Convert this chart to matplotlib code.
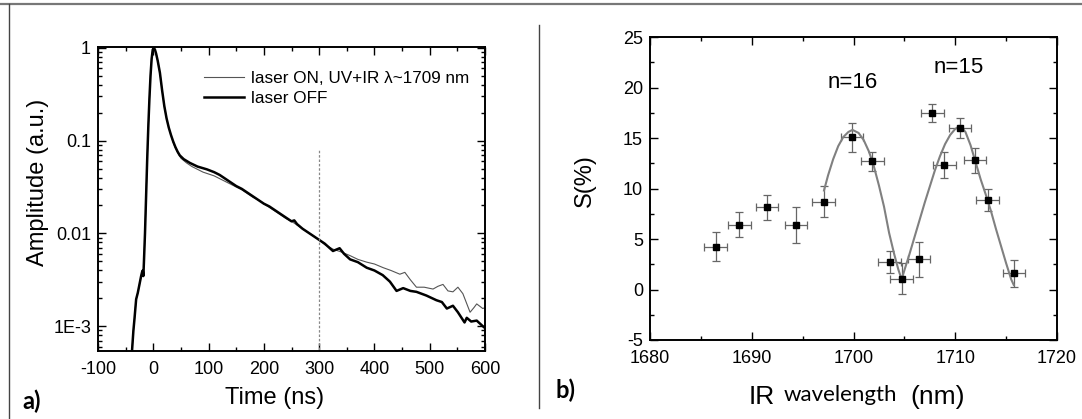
import matplotlib.pyplot as plt
import numpy as np
from matplotlib.ticker import MultipleLocator, FixedLocator, LogLocator, NullFormatter
from matplotlib.lines import Line2D

plt.rcParams['font.family'] = ['Liberation Sans', 'DejaVu Sans']
plt.rcParams['axes.unicode_minus'] = False

# ---------------- panel a) data: time (ns) and log10(amplitude) ----------------
t_off = [-40, -36, -34, -31, -28, -25, -22, -20, -19, -18, -17, -15, -13, -11, -9, -7, -5, -3, -1,
         1, 3, 5, 8, 12, 16, 20, 24, 28, 32, 36, 40, 44, 48, 55, 66, 80, 97,
         110, 120, 130, 140, 150, 160, 170, 180, 190, 200, 210, 220, 230, 240, 250, 255, 260,
         270, 280, 290, 300, 310, 325, 337, 345, 356, 370, 386, 400, 415, 428, 440, 452,
         465, 476, 494, 512, 522, 531, 542, 551, 563, 567, 575, 585, 596, 600]
log_off = [-3.4, -3.05, -2.92, -2.71, -2.64, -2.55, -2.46, -2.41, -2.40, -2.46, -2.32, -2.0, -1.6,
           -1.2, -0.85, -0.55, -0.30, -0.12, -0.02,
           0.0, -0.02, -0.06, -0.14, -0.27, -0.46, -0.63, -0.76, -0.86, -0.94, -1.01, -1.07,
           -1.12, -1.16, -1.20, -1.24, -1.28, -1.31,
           -1.34, -1.37, -1.41, -1.45, -1.49, -1.52, -1.56, -1.60, -1.64, -1.68, -1.71, -1.75,
           -1.79, -1.83, -1.87, -1.86, -1.90,
           -1.95, -1.99, -2.03, -2.07, -2.11, -2.19, -2.16, -2.22, -2.28, -2.31, -2.37, -2.40,
           -2.45, -2.52, -2.62, -2.59,
           -2.62, -2.63, -2.67, -2.72, -2.74, -2.81, -2.78, -2.85, -2.96, -2.91, -2.95, -2.94,
           -3.00, -3.02]

t_on = [-40, -36, -34, -31, -28, -25, -22, -20, -19, -18, -17, -15, -13, -11, -9, -7, -5, -3, -1,
        1, 3, 5, 8, 12, 16, 20, 24, 28, 32, 36, 40, 45, 50, 60, 70, 80, 90, 100,
        110, 120, 130, 140, 150, 160, 170, 180, 190, 200, 210, 220, 230, 240, 250, 260,
        270, 280, 290, 300, 310, 325, 340, 356, 370, 386, 400, 416, 430, 446, 455, 465,
        476, 490, 506, 515, 524, 533, 542, 551, 560, 573, 580, 585, 596, 600]
log_on = [-3.4, -3.05, -2.92, -2.71, -2.64, -2.55, -2.46, -2.41, -2.40, -2.46, -2.32, -2.0, -1.6,
          -1.2, -0.85, -0.55, -0.30, -0.12, -0.02,
          0.0, -0.02, -0.06, -0.14, -0.27, -0.46, -0.63, -0.76, -0.86, -0.94, -1.02, -1.08,
          -1.14, -1.19, -1.24, -1.28, -1.31, -1.34, -1.36,
          -1.38, -1.41, -1.44, -1.47, -1.50, -1.53, -1.57, -1.61, -1.64, -1.68, -1.72, -1.76,
          -1.80, -1.84, -1.87, -1.91,
          -1.95, -1.99, -2.03, -2.07, -2.12, -2.17, -2.20, -2.24, -2.28, -2.31, -2.33, -2.37,
          -2.40, -2.44, -2.42, -2.50,
          -2.58, -2.58, -2.60, -2.57, -2.55, -2.62, -2.63, -2.58, -2.65, -2.85, -2.80, -2.76,
          -2.81, -2.80]

# ---------------- panel b) data ----------------
wl = [1686.45, 1688.79, 1691.50, 1694.32, 1697.07, 1699.85, 1701.85, 1703.55,
      1704.73, 1706.43, 1707.75, 1708.94, 1710.47, 1711.93, 1713.18, 1715.76]
S = [4.25, 6.40, 8.15, 6.40, 8.71, 15.06, 12.68, 2.70,
     1.08, 3.00, 17.47, 12.31, 16.01, 12.78, 8.88, 1.61]
S_err = [1.4, 1.25, 1.25, 1.8, 1.5, 1.45, 0.95, 1.1,
         1.5, 1.75, 0.9, 1.3, 1.0, 1.25, 1.1, 1.35]
wl_err = [1.1] * 16

fit_wl = [1697.1, 1697.5, 1698.0, 1698.5, 1699.0, 1699.5, 1699.9, 1700.5, 1701.0, 1701.5,
          1701.85, 1702.0, 1702.5, 1703.0, 1703.5, 1704.0, 1704.4, 1704.73, 1705.0, 1705.5,
          1706.0, 1706.5, 1707.0, 1707.5, 1708.0, 1708.5, 1709.0, 1709.5, 1710.0, 1710.47,
          1711.0, 1711.5, 1712.0, 1712.5, 1713.0, 1713.5, 1714.0, 1714.5, 1715.0, 1715.5, 1715.75]
fit_S = [9.8, 11.3, 12.9, 14.2, 15.1, 15.6, 15.8, 15.5, 14.8, 13.7,
         12.7, 12.2, 10.3, 8.2, 5.6, 3.5, 2.0, 1.0, 1.9, 3.5,
         5.2, 6.9, 8.6, 10.2, 11.8, 13.2, 14.4, 15.3, 15.9, 16.2,
         15.6, 14.3, 12.6, 10.9, 9.4, 7.8, 6.0, 4.3, 2.6, 1.0, 0.45]

W, H = 1082, 419
fig = plt.figure(figsize=(W / 100, H / 100), dpi=100)


def fx(px):
    return px / W


def fy(py):
    return 1 - py / H


def style_axes(ax):
    ax.tick_params(which='both', direction='in', top=True, right=True,
                   labelsize=13, width=1.0)
    ax.tick_params(axis='x', pad=7)
    ax.tick_params(axis='y', pad=5)
    ax.tick_params(which='major', length=6)
    ax.tick_params(which='minor', length=3)
    for sp in ax.spines.values():
        sp.set_linewidth(1.4)


# ---------------- panel a ----------------
ax1 = fig.add_axes([fx(98), fy(351), fx(485 - 98), (351 - 47) / H])
ax1.plot(t_on, 10 ** np.array(log_on), color='#555555', lw=0.8,
         label=u'laser ON, UV+IR \u03bb~1709 nm')
ax1.plot(t_off, 10 ** np.array(log_off), color='black', lw=1.8, label='laser OFF')
ax1.vlines(300, 5e-4, 0.08, colors='#888888', lw=0.9, linestyles=(0, (2, 1.5)))
ax1.set_yscale('log')
ax1.set_xlim(-100, 600)
ax1.set_ylim(5.4e-4, 1.02)
ax1.xaxis.set_major_locator(MultipleLocator(100))
ax1.xaxis.set_minor_locator(MultipleLocator(50))
ax1.yaxis.set_major_locator(FixedLocator([1e-3, 1e-2, 0.1, 1]))
ax1.set_yticklabels(['1E-3', '0.01', '0.1', '1'])
ax1.yaxis.set_minor_locator(LogLocator(base=10, subs=np.arange(2, 10)))
ax1.yaxis.set_minor_formatter(NullFormatter())
style_axes(ax1)
ax1.legend(loc='upper left', bbox_to_anchor=(0.275, 0.92), frameon=False, fontsize=12.3,
           handlelength=2.3, handletextpad=0.4, labelspacing=0.25,
           borderpad=0, borderaxespad=0)

fig.text(fx(38), fy(182), 'Amplitude (a.u.)', rotation=90, ha='center', va='center', fontsize=17)
fig.text(fx(275), fy(398), 'Time (ns)', ha='center', va='center', fontsize=17)
fig.text(fx(22), fy(401), 'a)', ha='left', va='center', fontsize=17, fontweight='bold',
         family=['Lato', 'DejaVu Sans'])

# ---------------- panel b ----------------
ax2 = fig.add_axes([fx(650), fy(340), fx(1057 - 650), (340 - 37) / H])
ax2.errorbar(wl, S, xerr=wl_err, yerr=S_err, fmt='none', ecolor='#666666',
             elinewidth=0.9, capsize=3, capthick=0.9, zorder=2)
ax2.plot(fit_wl, fit_S, color='#808080', lw=1.5, zorder=3)
ax2.plot(wl, S, 's', color='black', ms=5, zorder=4)
ax2.set_xlim(1680, 1720)
ax2.set_ylim(-5, 25)
ax2.xaxis.set_major_locator(MultipleLocator(10))
ax2.xaxis.set_minor_locator(MultipleLocator(5))
ax2.yaxis.set_major_locator(MultipleLocator(5))
ax2.yaxis.set_minor_locator(MultipleLocator(2.5))
style_axes(ax2)
ax2.text(1699.95, 20.5, 'n=16', ha='center', va='center', fontsize=16)
ax2.text(1710.3, 22.0, 'n=15', ha='center', va='center', fontsize=16)

fig.text(fx(585), fy(181), 'S(%)', rotation=90, ha='center', va='center', fontsize=17)
fig.text(fx(749), fy(397), 'IR', ha='left', va='center', fontsize=19)
fig.text(fx(784), fy(395), 'wavelength', ha='left', va='center', fontsize=16,
         family=['Lato', 'DejaVu Sans'])
fig.text(fx(910), fy(397), '(nm)', ha='left', va='center', fontsize=19)
fig.text(fx(555), fy(390), 'b)', ha='left', va='center', fontsize=17, fontweight='bold',
         family=['Lato', 'DejaVu Sans'])

# ---------------- outer frame and separator ----------------
fig.add_artist(Line2D([0, 1], [fy(4), fy(4)], transform=fig.transFigure,
                      color='#777777', lw=1.6))
fig.add_artist(Line2D([fx(9), fx(9)], [fy(4), 0], transform=fig.transFigure,
                      color='#444444', lw=1.0))
fig.add_artist(Line2D([fx(539), fx(539)], [fy(25), fy(408)], transform=fig.transFigure,
                      color='#444444', lw=1.0))

fig.savefig('out.png', dpi=100)
